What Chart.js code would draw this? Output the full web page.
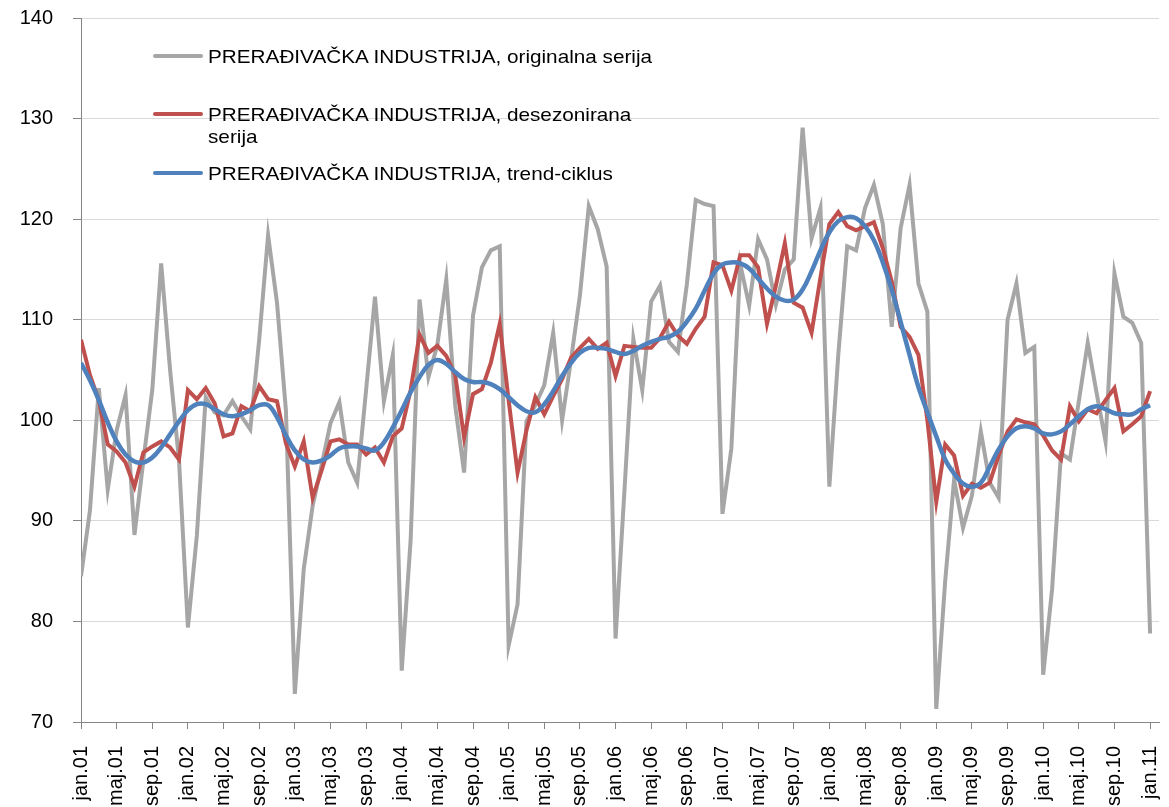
<!DOCTYPE html>
<html>
<head>
<meta charset="utf-8">
<title>Prerađivačka industrija</title>
<script src="https://cdn.jsdelivr.net/npm/chart.js@4.4.1/dist/chart.umd.min.js"></script>
<style>
    html, body { margin: 0; padding: 0; background: #fff; }
    #wrap { position: relative; width: 1169px; height: 807px; }
    #legend {
        position: absolute; left: 153px; top: 0;
        font-family: 'Liberation Sans', Arial, sans-serif; font-size: 18.5px; color: #000;
    }
    .item { position: absolute; left: 0; display: flex; align-items: flex-start; }
    .item:nth-child(1) { top: 46px; }
    .item:nth-child(2) { top: 104px; }
    .item:nth-child(3) { top: 163px; }
    .swatch { width: 50px; height: 4.5px; border-radius: 2px; margin-top: 7.5px; flex: none; }
    .text { width: 415px; margin-left: 5px; line-height: 22px; transform: scaleX(1.12); transform-origin: left top; }
</style>
</head>
<body>
<div id="wrap">
    <canvas id="chart" width="1169" height="807"></canvas>
    <div id="legend"></div>
</div>
<script>
// months jan.01 .. jan.11
const monthNames = ['jan', 'feb', 'mar', 'apr', 'maj', 'jun', 'jul', 'avg', 'sep', 'okt', 'nov', 'dec'];
const years = ['01', '02', '03', '04', '05', '06', '07', '08', '09', '10', '11'];
const monthCount = 121;
const tickEvery = 4;

const categories = [];
for (const y of years) {
    for (const m of monthNames) {
        if (categories.length < monthCount) categories.push(m + '.' + y);
    }
}
const tickIndex = categories.map((c, i) => i).filter(i => i % tickEvery === 0);

const seriesLabels = [
    'PRERAĐIVAČKA INDUSTRIJA, originalna serija',
    'PRERAĐIVAČKA INDUSTRIJA, desezonirana serija',
    'PRERAĐIVAČKA INDUSTRIJA, trend-ciklus'
];
const seriesColors = ['#A6A6A6', '#C0504D', '#4F81BD'];

const originalna = [
    84.5, 91.0, 103.2, 93.1, 99.0, 102.5, 88.6, 96.0, 103.0, 115.6, 105.0, 96.0,
    79.4, 88.5, 102.3, 100.8, 100.5, 101.9, 100.4, 99.1, 108.0, 118.4, 111.7, 101.0,
    72.8, 85.2, 91.5, 95.5, 99.7, 101.8, 95.8, 93.8, 103.0, 112.3, 101.9, 106.5,
    75.1, 88.1, 112.0, 104.3, 107.5, 114.0, 101.5, 94.8, 110.4, 115.2, 116.9, 117.3,
    77.6, 81.7, 99.9, 101.5, 103.5, 108.7, 100.0, 106.0, 112.4, 121.3, 119.0, 115.3,
    78.3, 93.0, 108.1, 103.0, 111.8, 113.4, 107.8, 106.8, 113.5, 121.9, 121.5, 121.3,
    90.7, 97.2, 115.5, 111.4, 118.0, 116.0, 111.5, 115.0, 116.0, 129.1, 118.1, 121.1,
    93.4, 106.5, 117.3, 116.9, 121.1, 123.4, 119.5, 109.3, 119.1, 123.4, 113.6, 110.8,
    71.3, 84.0, 94.1, 89.3, 92.5, 98.9, 93.8, 92.3, 110.0, 113.6, 106.7, 107.3,
    74.7, 83.2, 96.7, 96.1, 101.9, 107.7, 102.7, 97.9, 114.6, 110.3, 109.7, 107.7,
    78.8
];

const desezonirana = [
    108.0, 104.5, 102.0, 97.6, 96.9, 95.8, 93.4, 96.8, 97.4, 97.9, 97.3, 96.1,
    103.0, 102.1, 103.2, 101.7, 98.4, 98.7, 101.4, 100.9, 103.4, 102.1, 101.9, 97.7,
    95.4, 97.9, 92.3, 95.0, 97.9, 98.1, 97.6, 97.6, 96.6, 97.3, 95.8, 98.4,
    99.2, 103.0, 108.5, 106.7, 107.4, 106.4, 104.5, 98.3, 102.6, 103.1, 105.7, 109.6,
    102.0, 94.8, 99.0, 102.3, 100.6, 102.4, 104.1, 106.2, 107.2, 108.1, 107.1, 107.7,
    104.4, 107.4, 107.3, 107.2, 107.2, 108.2, 109.8, 108.4, 107.6, 109.1, 110.3, 115.7,
    115.4, 112.9, 116.4, 116.4, 115.2, 109.6, 113.4, 117.6, 111.7, 111.2, 108.7, 114.2,
    119.5, 120.7, 119.3, 118.9, 119.3, 119.7, 117.1, 113.8, 109.3, 108.3, 106.5, 100.0,
    91.9, 97.6, 96.5, 92.5, 93.7, 93.3, 93.8, 96.5, 98.9, 100.1, 99.8, 99.6,
    98.5, 97.0, 96.1, 101.4, 99.9, 101.1, 100.7, 102.0, 103.2, 98.9, 99.6, 100.4,
    102.9
];

const trendCiklus = [
    105.7, 104.0, 102.0, 99.8, 97.9, 96.6, 95.9, 95.8, 96.3, 97.3, 98.6, 99.9,
    101.0, 101.6, 101.6, 101.1, 100.6, 100.4, 100.6, 101.0, 101.5, 101.5, 100.3, 98.5,
    97.0, 96.1, 95.8, 96.0, 96.5, 97.2, 97.4, 97.4, 97.2, 97.0, 97.8, 99.3,
    101.0, 102.8, 104.3, 105.5, 106.0, 105.6, 104.8, 104.1, 103.8, 103.8, 103.6, 103.1,
    102.3, 101.5, 100.9, 100.8, 101.6, 102.9, 104.4, 105.7, 106.7, 107.2, 107.2, 107.1,
    106.8, 106.6, 106.9, 107.4, 107.8, 108.1, 108.3, 108.8, 109.8, 111.1, 112.9, 114.6,
    115.5, 115.7, 115.6, 115.1, 114.1, 113.1, 112.3, 111.9, 112.0, 113.0, 114.8, 116.9,
    118.7, 119.8, 120.2, 120.1, 119.3, 117.9, 115.7, 113.0, 109.8, 106.5, 103.3, 100.8,
    98.4, 96.1, 94.7, 93.7, 93.4, 93.8, 95.4, 97.1, 98.4, 99.2, 99.4, 99.2,
    98.7, 98.6, 98.9, 99.6, 100.4, 101.1, 101.4, 101.1, 100.7, 100.6, 100.6, 101.1,
    101.5
];

const yTicks = { min: 70, max: 140, step: 10 };

const tickFont = { family: "'Liberation Sans', Arial, sans-serif", size: 20 };
const toPoints = arr => arr.map((v, i) => ({ x: i, y: v }));

const seriesData = [originalna, desezonirana, trendCiklus];
const datasets = seriesData.map((arr, k) => ({
    label: seriesLabels[k],
    data: toPoints(arr),
    borderColor: seriesColors[k],
    backgroundColor: seriesColors[k],
    borderWidth: k === 2 ? 4.5 : 4,
    pointRadius: 0,
    tension: k === 2 ? 0.4 : 0,
    fill: false,
    order: 3 - k
}));

const ctx = document.getElementById('chart').getContext('2d');
new Chart(ctx, {
    type: 'line',
    data: { datasets: datasets },
    options: {
        responsive: false,
        animation: false,
        devicePixelRatio: 1,
        layout: { padding: { top: 18, right: 10, left: 0, bottom: 0 } },
        plugins: {
            legend: { display: false },
            tooltip: { enabled: false }
        },
        scales: {
            x: {
                type: 'linear',
                min: 0,
                max: monthCount,
                afterBuildTicks: axis => {
                    axis.ticks = tickIndex.map(v => ({ value: v }));
                },
                afterFit: axis => {
                    axis.height = 85;
                    // labels are rotated, keep them from eating the plot width
                    axis.paddingLeft = 0;
                    axis.paddingRight = 0;
                },
                grid: {
                    drawOnChartArea: false,
                    drawTicks: true,
                    tickLength: 7,
                    tickColor: '#868686'
                },
                border: { display: true, color: '#868686', width: 1 },
                ticks: {
                    autoSkip: false,
                    minRotation: 90,
                    maxRotation: 90,
                    padding: 17,
                    color: '#000',
                    font: tickFont,
                    callback: v => categories[v]
                }
            },
            y: {
                min: yTicks.min,
                max: yTicks.max,
                afterFit: axis => {
                    axis.width = 81;
                    axis.paddingTop = 0;
                    axis.paddingBottom = 0;
                },
                grid: {
                    color: '#D9D9D9',
                    lineWidth: 1,
                    tickLength: 8,
                    tickColor: '#868686'
                },
                border: { display: true, color: '#868686', width: 1 },
                ticks: {
                    stepSize: yTicks.step,
                    padding: 20,
                    color: '#000',
                    font: tickFont
                }
            }
        }
    }
});

// legend drawn as html over the plot area
const legendEl = document.getElementById('legend');
seriesLabels.forEach((label, k) => {
    const item = document.createElement('div');
    item.className = 'item';
    const sw = document.createElement('div');
    sw.className = 'swatch';
    sw.style.background = seriesColors[k];
    const txt = document.createElement('div');
    txt.className = 'text';
    txt.textContent = label;
    item.appendChild(sw);
    item.appendChild(txt);
    legendEl.appendChild(item);
});
</script>
</body>
</html>
